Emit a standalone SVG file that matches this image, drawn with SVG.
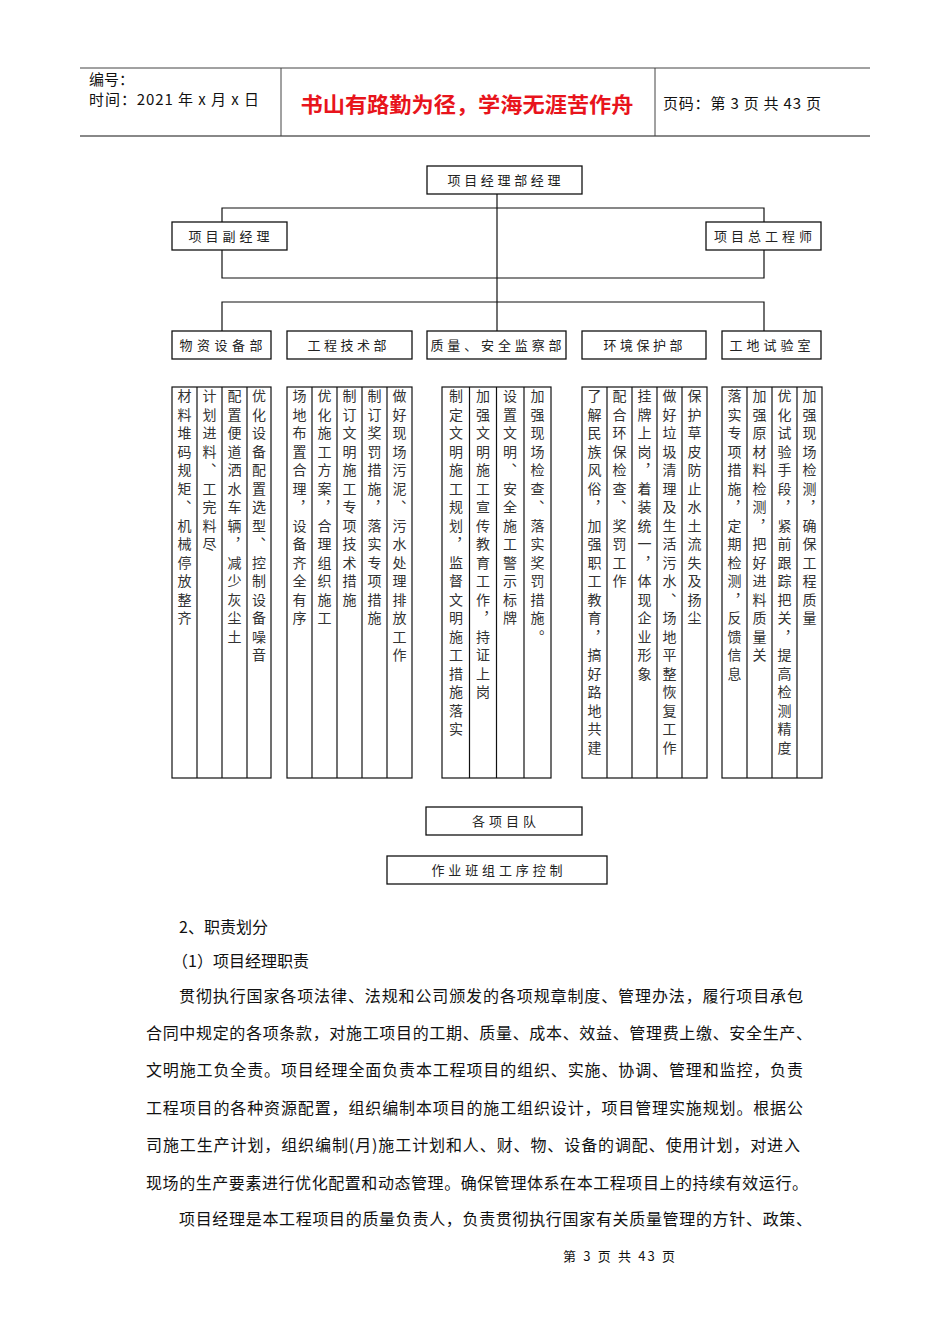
<svg xmlns="http://www.w3.org/2000/svg" width="950" height="1344" viewBox="0 0 950 1344">
<style>
.bg{fill:#fff}
.hd{font-family:"Noto Sans CJK SC","Liberation Sans",sans-serif;font-size:15px;fill:#111}
.title{font-family:"Noto Sans CJK SC",sans-serif;font-size:21px;font-weight:bold;fill:#e8141c}
.box{fill:#fff;stroke:#111;stroke-width:1.3}
.lbl{font-family:"Noto Sans CJK SC",sans-serif;font-size:13px;fill:#222;text-anchor:middle}
.conn{stroke:#111;stroke-width:1.2;fill:none}
.col{fill:none;stroke:#111;stroke-width:1.2}
.vt{font-family:"Noto Sans CJK SC",sans-serif;font-size:14px;fill:#333;writing-mode:vertical-rl;text-orientation:upright;letter-spacing:4.5px;dominant-baseline:central}
.body{font-family:"Noto Sans CJK SC",sans-serif;font-size:16px;fill:#111}
.foot{font-family:"Noto Sans CJK SC",sans-serif;font-size:13px;fill:#111}
</style>
<rect class="bg" x="0" y="0" width="950" height="1344"/>

<g id="header">
<line x1="80" y1="68" x2="870" y2="68" stroke="#444" stroke-width="1"/>
<line x1="80" y1="136" x2="870" y2="136" stroke="#888" stroke-width="2"/>
<line x1="281" y1="68" x2="281" y2="136" stroke="#444" stroke-width="1"/>
<line x1="655" y1="68" x2="655" y2="136" stroke="#444" stroke-width="1"/>
<text class="hd" x="89" y="85">编号：</text>
<text class="hd" x="89" y="105" textLength="170" lengthAdjust="spacing">时间：2021 年 x 月 x 日</text>
<text class="title" x="467" y="112" text-anchor="middle" textLength="333" lengthAdjust="spacingAndGlyphs">书山有路勤为径，学海无涯苦作舟</text>
<text class="hd" x="663" y="109" textLength="158" lengthAdjust="spacing">页码：第 3 页  共 43 页</text>
</g>

<g id="connectors">
<line class="conn" x1="497" y1="194" x2="497" y2="331"/>
<polyline class="conn" points="222,222 222,208 764,208 764,222"/>
<polyline class="conn" points="222,250 222,278 764,278 764,250"/>
<polyline class="conn" points="222,331 222,302 764,302 764,331"/>
</g>

<g id="n-pm"><rect class="box" x="427" y="166" width="155" height="28"/><text class="lbl" x="504" y="185" textLength="113" lengthAdjust="spacing">项目经理部经理</text></g>
<g id="n-dpm"><rect class="box" x="172" y="222" width="115" height="28"/><text class="lbl" x="229" y="241" textLength="81" lengthAdjust="spacing">项目副经理</text></g>
<g id="n-ce"><rect class="box" x="706" y="222" width="115" height="28"/><text class="lbl" x="763" y="241" textLength="98" lengthAdjust="spacing">项目总工程师</text></g>

<g id="n-d1"><rect class="box" x="172" y="331" width="99" height="28"/><text class="lbl" x="221" y="350" textLength="83" lengthAdjust="spacing">物资设备部</text></g>
<g id="n-d2"><rect class="box" x="287" y="331" width="125" height="28"/><text class="lbl" x="347" y="350" textLength="79" lengthAdjust="spacing">工程技术部</text></g>
<g id="n-d3"><rect class="box" x="427" y="331" width="139" height="28"/><text class="lbl" x="496" y="350" textLength="131" lengthAdjust="spacing">质量、安全监察部</text></g>
<g id="n-d4"><rect class="box" x="582" y="331" width="124" height="28"/><text class="lbl" x="643" y="350" textLength="79" lengthAdjust="spacing">环境保护部</text></g>
<g id="n-d5"><rect class="box" x="722" y="331" width="99" height="28"/><text class="lbl" x="770" y="350" textLength="81" lengthAdjust="spacing">工地试验室</text></g>

<g id="n-g1">
<rect class="col" x="172" y="387" width="99" height="391"/>
<line class="col" x1="197" y1="387" x2="197" y2="778"/><line class="col" x1="222" y1="387" x2="222" y2="778"/><line class="col" x1="247" y1="387" x2="247" y2="778"/>
<text class="vt" x="184.5" y="389">材料堆码规矩、机械停放整齐</text>
<text class="vt" x="209.5" y="389">计划进料、工完料尽</text>
<text class="vt" x="234.5" y="389">配置便道洒水车辆，减少灰尘土</text>
<text class="vt" x="259" y="389">优化设备配置选型、控制设备噪音</text>
</g>
<g id="n-g2">
<rect class="col" x="287" y="387" width="125" height="391"/>
<line class="col" x1="312" y1="387" x2="312" y2="778"/><line class="col" x1="337" y1="387" x2="337" y2="778"/><line class="col" x1="362" y1="387" x2="362" y2="778"/><line class="col" x1="387" y1="387" x2="387" y2="778"/>
<text class="vt" x="299.5" y="389">场地布置合理，设备齐全有序</text>
<text class="vt" x="324.5" y="389">优化施工方案，合理组织施工</text>
<text class="vt" x="349.5" y="389">制订文明施工专项技术措施</text>
<text class="vt" x="374.5" y="389">制订奖罚措施，落实专项措施</text>
<text class="vt" x="399.5" y="389">做好现场污泥、污水处理排放工作</text>
</g>
<g id="n-g3">
<rect class="col" x="442" y="387" width="109" height="391"/>
<line class="col" x1="469.5" y1="387" x2="469.5" y2="778"/><line class="col" x1="496.5" y1="387" x2="496.5" y2="778"/><line class="col" x1="524" y1="387" x2="524" y2="778"/>
<text class="vt" x="456" y="389">制定文明施工规划，监督文明施工措施落实</text>
<text class="vt" x="483" y="389">加强文明施工宣传教育工作，持证上岗</text>
<text class="vt" x="510" y="389">设置文明、安全施工警示标牌</text>
<text class="vt" x="537.5" y="389">加强现场检查、落实奖罚措施。</text>
</g>
<g id="n-g4">
<rect class="col" x="582" y="387" width="125" height="391"/>
<line class="col" x1="607" y1="387" x2="607" y2="778"/><line class="col" x1="632" y1="387" x2="632" y2="778"/><line class="col" x1="657" y1="387" x2="657" y2="778"/><line class="col" x1="682" y1="387" x2="682" y2="778"/>
<text class="vt" x="594.5" y="389">了解民族风俗，加强职工教育，搞好路地共建</text>
<text class="vt" x="619.5" y="389">配合环保检查、奖罚工作</text>
<text class="vt" x="644.5" y="389">挂牌上岗，着装统一，体现企业形象</text>
<text class="vt" x="669.5" y="389">做好垃圾清理及生活污水、场地平整恢复工作</text>
<text class="vt" x="694.5" y="389">保护草皮防止水土流失及扬尘</text>
</g>
<g id="n-g5">
<rect class="col" x="722" y="387" width="100" height="391"/>
<line class="col" x1="747" y1="387" x2="747" y2="778"/><line class="col" x1="772" y1="387" x2="772" y2="778"/><line class="col" x1="797" y1="387" x2="797" y2="778"/>
<text class="vt" x="734.5" y="389">落实专项措施，定期检测，反馈信息</text>
<text class="vt" x="759.5" y="389">加强原材料检测，把好进料质量关</text>
<text class="vt" x="784.5" y="389">优化试验手段，紧前跟踪把关，提高检测精度</text>
<text class="vt" x="809.5" y="389">加强现场检测，确保工程质量</text>
</g>

<g id="n-team"><rect class="box" x="426" y="807" width="156" height="28"/><text class="lbl" x="504" y="826" textLength="64" lengthAdjust="spacing">各项目队</text></g>
<g id="n-crew"><rect class="box" x="387" y="856" width="220" height="28"/><text class="lbl" x="497" y="875" textLength="131" lengthAdjust="spacing">作业班组工序控制</text></g>

<g id="bodytext">
<text class="body" x="179" y="933">2、职责划分</text>
<text class="body" x="172" y="967">（1）项目经理职责</text>
<text class="body" x="179" y="1002" textLength="624" lengthAdjust="spacing">贯彻执行国家各项法律、法规和公司颁发的各项规章制度、管理办法，履行项目承包</text>
<text class="body" x="146" y="1039" textLength="666" lengthAdjust="spacing">合同中规定的各项条款，对施工项目的工期、质量、成本、效益、管理费上缴、安全生产、</text>
<text class="body" x="146" y="1076" textLength="657" lengthAdjust="spacing">文明施工负全责。项目经理全面负责本工程项目的组织、实施、协调、管理和监控，负责</text>
<text class="body" x="146" y="1114" textLength="657" lengthAdjust="spacing">工程项目的各种资源配置，组织编制本项目的施工组织设计，项目管理实施规划。根据公</text>
<text class="body" x="146" y="1151" textLength="654" lengthAdjust="spacing">司施工生产计划，组织编制(月)施工计划和人、财、物、设备的调配、使用计划，对进入</text>
<text class="body" x="146" y="1189" textLength="662" lengthAdjust="spacing">现场的生产要素进行优化配置和动态管理。确保管理体系在本工程项目上的持续有效运行。</text>
<text class="body" x="179" y="1225" textLength="633" lengthAdjust="spacing">项目经理是本工程项目的质量负责人，负责贯彻执行国家有关质量管理的方针、政策、</text>
<text class="foot" x="563" y="1261" textLength="112" lengthAdjust="spacing">第 3 页 共 43 页</text>
</g>
</svg>
